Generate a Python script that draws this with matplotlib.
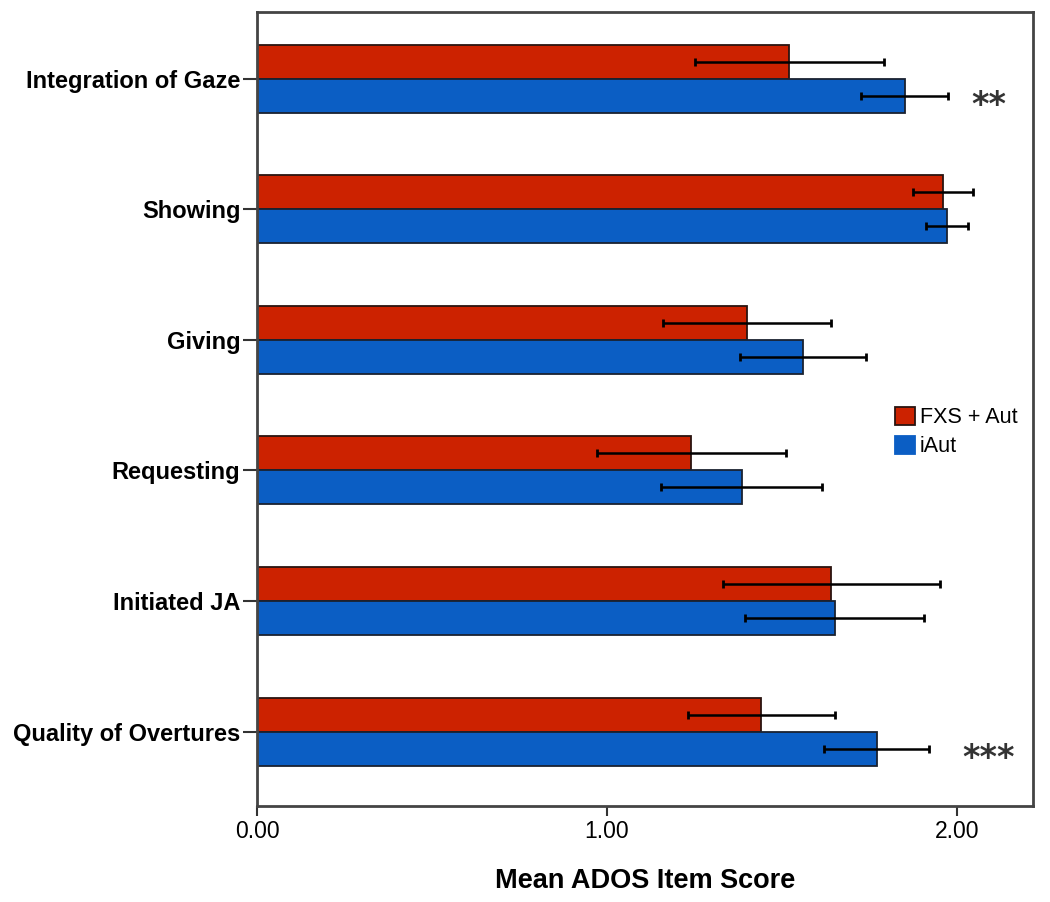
import numpy as np
import matplotlib
matplotlib.use("Agg")
import matplotlib.pyplot as plt
import matplotlib.patches as mpatches

plt.rcParams['font.family'] = ['Liberation Sans', 'DejaVu Sans']

# Data
items = ['Integration of Gaze', 'Showing', 'Giving', 'Requesting',
         'Initiated JA', 'Quality of Overtures']
fxs_mean = [1.52, 1.96, 1.40, 1.24, 1.64, 1.44]
fxs_err = [0.27, 0.085, 0.24, 0.27, 0.31, 0.21]
iaut_mean = [1.85, 1.97, 1.56, 1.385, 1.65, 1.77]
iaut_err = [0.125, 0.06, 0.18, 0.23, 0.255, 0.15]
sig_marks = ['**', '', '', '', '', '***']
xticks = [0.0, 1.0, 2.0]

RED = '#CC2200'
BLUE = '#0B5EC4'
bar_h = 0.26

fig = plt.figure(figsize=(10.5, 9.02), dpi=100)
ax = fig.add_axes([0.2448, 0.1064, 0.7390, 0.8803])

y = np.arange(len(items))
ax.barh(y - bar_h / 2, fxs_mean, height=bar_h, color=RED, edgecolor='#2a1410', linewidth=1.3)
ax.barh(y + bar_h / 2, iaut_mean, height=bar_h, color=BLUE, edgecolor='#1a2230', linewidth=1.3)
ax.errorbar(fxs_mean, y - bar_h / 2, xerr=fxs_err, fmt='none', ecolor='black',
            elinewidth=1.8, capsize=3, capthick=2)
ax.errorbar(iaut_mean, y + bar_h / 2, xerr=iaut_err, fmt='none', ecolor='black',
            elinewidth=1.8, capsize=3, capthick=2)

# significance stars next to the iAut bars
for i, s in enumerate(sig_marks):
    if s:
        ax.annotate(s, (2.09, y[i] + bar_h / 2), xytext=(0, -7), textcoords='offset points',
                    ha='center', va='center', fontsize=24, fontweight='bold',
                    family='DejaVu Sans', color='#333333')

ax.set_xlim(0, 2.217)
ax.set_ylim(5.57, -0.51)
ax.set_yticks(y)
ax.set_yticklabels(items, fontsize=17, fontweight='bold')
ax.set_xticks(xticks)
ax.set_xticklabels(['%.2f' % t for t in xticks], fontsize=16.5)
ax.tick_params(axis='y', length=10, width=1.5, pad=2, color='#333333')
ax.tick_params(axis='x', length=7, width=1.5, pad=3, color='#333333')
for sp in ax.spines.values():
    sp.set_linewidth(2)
    sp.set_color('#444444')

ax.set_xlabel('Mean ADOS Item Score', fontsize=19.5, fontweight='bold', labelpad=18)

handles = [mpatches.Patch(facecolor=RED, edgecolor='#2a1410', linewidth=1.3, label='FXS + Aut'),
           mpatches.Patch(facecolor=BLUE, edgecolor=BLUE, linewidth=1.3, label='iAut')]
ax.legend(handles=handles, loc='center left', bbox_to_anchor=(0.808, 0.471), frameon=False,
          fontsize=15.5, borderpad=0, handlelength=0.95, handleheight=0.9,
          handletextpad=0.2, labelspacing=0.35)

plt.savefig('out.png', dpi=100)
